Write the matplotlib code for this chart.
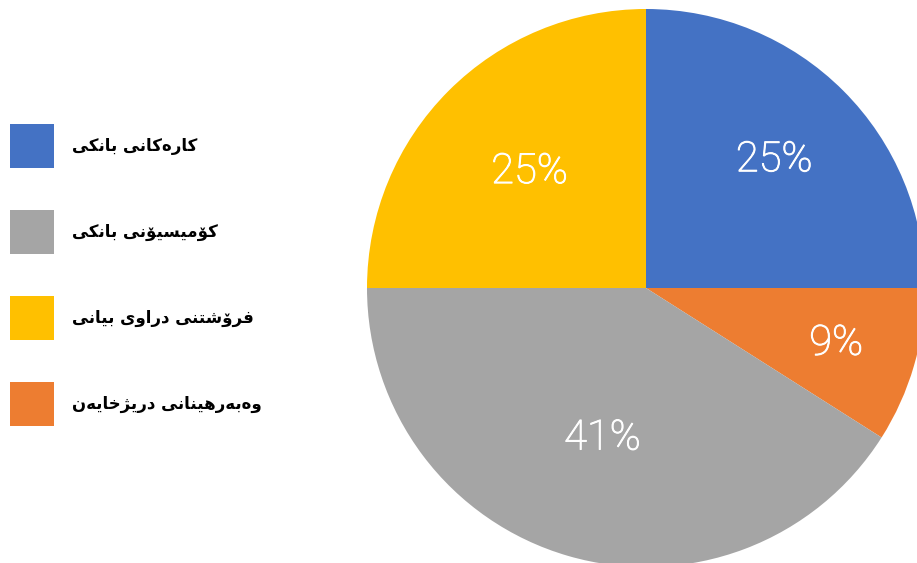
import matplotlib
matplotlib.use("Agg")
import numpy as np
from matplotlib import pyplot as plt
from matplotlib import patheffects as pe

# slices in drawing order (clockwise from 12 o'clock)
labels = ['کارەکانی بانکی', 'وەبەرهێنانی درێژخایەن', 'کۆمیسیۆنی بانکی', 'فرۆشتنی دراوی بیانی']
values = [25, 9, 41, 25]
colors = ['#4472C4', '#ED7D31', '#A5A5A5', '#FFC000']
legend_order = [0, 2, 3, 1]
label_dist = [0.65, 0.71, 0.56, 0.59]

# matplotlib has no arabic shaping, so map letters to presentation forms
# (isolated, final, initial, medial); None -> letter does not join to the next one
forms = {
    'ا': ('\uFE8D', '\uFE8E', None, None),
    'ب': ('\uFE8F', '\uFE90', '\uFE91', '\uFE92'),
    'ت': ('\uFE95', '\uFE96', '\uFE97', '\uFE98'),
    'خ': ('\uFEA5', '\uFEA6', '\uFEA7', '\uFEA8'),
    'د': ('\uFEA9', '\uFEAA', None, None),
    'ر': ('\uFEAD', '\uFEAE', None, None),
    'ژ': ('\uFB8A', '\uFB8B', None, None),
    'س': ('\uFEB1', '\uFEB2', '\uFEB3', '\uFEB4'),
    'ش': ('\uFEB5', '\uFEB6', '\uFEB7', '\uFEB8'),
    'ف': ('\uFED1', '\uFED2', '\uFED3', '\uFED4'),
    'م': ('\uFEE1', '\uFEE2', '\uFEE3', '\uFEE4'),
    'ن': ('\uFEE5', '\uFEE6', '\uFEE7', '\uFEE8'),
    'ه': ('\uFEE9', '\uFEEA', '\uFEEB', '\uFEEC'),
    'و': ('\uFEED', '\uFEEE', None, None),
    'ک': ('\uFB8E', '\uFB8F', '\uFB90', '\uFB91'),
    'ی': ('\uFBFC', '\uFBFD', '\uFBFE', '\uFBFF'),
    'ێ': ('\u06CE', '\u06CE', '\uFBFE', '\uFBFF'),
    'ە': ('\uFEE9', '\uFEEA', None, None),
    'ۆ': ('\uFBD9', '\uFBDA', None, None),
}


def joins_next(c):
    return c in forms and forms[c][2] is not None


def shape(s):
    out = []
    for i, c in enumerate(s):
        if c not in forms:
            out.append(c)
            continue
        prev = s[i - 1] if i > 0 else ''
        nxt = s[i + 1] if i + 1 < len(s) else ''
        left = joins_next(prev)
        right = joins_next(c) and nxt in forms
        iso, fin, ini, med = forms[c]
        if left and right:
            out.append(med)
        elif left:
            out.append(fin)
        elif right:
            out.append(ini)
        else:
            out.append(iso)
    return ''.join(out)[::-1]


fig = plt.figure(figsize=(9.17, 5.63), dpi=100)
ax = fig.add_axes([0, 0, 1, 1])

cx, cy, r = 646, 275, 279
wedges, texts, autotexts = ax.pie(values, colors=colors, startangle=90, counterclock=False,
                                  center=(cx, cy), radius=r, autopct='%d%%',
                                  pctdistance=0.62, frame=True,
                                  textprops=dict(color='white', fontsize=30,
                                                 family='Roboto', fontweight='light'))
# excel-like label placement: each label at its own fraction of the radius
for w, t, d in zip(wedges, autotexts, label_dist):
    ang = np.deg2rad((w.theta1 + w.theta2) / 2)
    t.set_position((cx + d * r * np.cos(ang), cy + d * r * np.sin(ang)))
    t.set_path_effects([pe.withStroke(linewidth=0.7, foreground='white')])

ax.set_xlim(0, 917)
ax.set_ylim(0, 563)
ax.set_aspect('equal')
ax.axis('off')

fs = 12
leg = ax.legend([wedges[i] for i in legend_order], [shape(labels[i]) for i in legend_order],
                loc='upper left', bbox_to_anchor=(10 / 917, 1 - 124 / 563), frameon=False,
                prop=dict(family='DejaVu Sans', weight='bold', size=fs),
                borderpad=0, borderaxespad=0,
                handlelength=2.64, handleheight=3.685, handletextpad=1.08, labelspacing=2.52)

fig.savefig('out.png', dpi=100)
